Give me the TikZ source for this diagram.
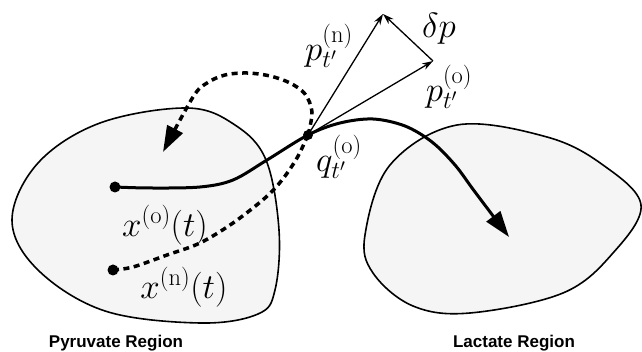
\RequirePackage{fix-cm}
\documentclass[tikz,border=0pt]{standalone}
\usepackage{fontspec}
\newfontfamily\labelfont{Liberation Sans}
\usetikzlibrary{arrows.meta}
\begin{document}
\begin{tikzpicture}[x=1pt,y=-1pt,
  region/.style={draw=black, line width=1.6pt, fill=black!4},
  traj/.style={line width=3pt},
  newtraj/.style={line width=3.5pt, dash pattern=on 6pt off 4.5pt},
  vec/.style={line width=1.3pt, -{Stealth[length=11pt,width=7pt]}},
  bigtip/.style={-{Triangle[length=26pt,width=17pt]}},
  mathlabel/.style={font=\fontsize{35}{39}\selectfont, inner sep=0pt},
  regionlabel/.style={font=\labelfont\bfseries\fontsize{17}{20}\selectfont, inner sep=0pt},
  dotmark/.style={fill=black}]
\useasboundingbox (0,0) rectangle (642,352);
\clip (0,0) rectangle (642,352);

% regions
\draw[region] plot[smooth cycle, tension=0.6] coordinates {
  (187,108) (235,125) (266,160) (279,230) (275,290) (258,314)
  (200,323) (105,311) (38,270) (12,220) (38,163) (100,123)};
\draw[region] plot[smooth cycle, tension=0.6] coordinates {
  (457,125) (547,137) (603,165) (641,205) (613,253) (563,293)
  (470,313) (413,306) (373,273) (365,235) (390,165)};

% key points
\coordinate (xo) at (115,187);
\coordinate (xn) at (113,270);
\coordinate (q)  at (308,135);
\coordinate (pn) at (383,14);
\coordinate (po) at (433,61);
\coordinate (lend) at (509,237);
\coordinate (pend) at (163,152);

% original trajectory
\draw[traj, bigtip] plot[smooth, tension=0.55] coordinates {
  (xo) (150,188) (200,187) (233,180) (267,160) (q) (340,123) (373,119)
  (405,126) (432,142) (455,165) (475,192) (lend)};

% new trajectory
\draw[newtraj] plot[smooth, tension=0.55] coordinates {
  (xn) (133,267) (167,255) (200,243) (233,223) (265,198) (282,180) (297,158) (q)};
\draw[newtraj, bigtip] plot[smooth, tension=0.55] coordinates {
  (q) (312,112) (305,94) (290,83) (270,76) (247,73) (225,75) (207,83) (193,97) (pend)};

% momentum vectors
\draw[vec] (q) -- (pn);
\draw[vec] (q) -- (po);
\draw[vec] (po) -- (pn);

% dots
\fill[dotmark] (xo) circle (5.5pt);
\fill[dotmark] (xn) circle (5.5pt);
\fill[dotmark] (q) circle (5pt);

% labels
\node[mathlabel] (lxo) at (165,225) {$x^{(\mathrm{o})}(t)$};
\node[mathlabel] (lxn) at (184,287) {$x^{(\mathrm{n})}(t)$};
\node[mathlabel] (lq)  at (339,157) {$q^{(\mathrm{o})}_{t'}$};
\node[mathlabel] (lpn) at (329,46)  {$p^{(\mathrm{n})}_{t'}$};
\node[mathlabel] (ldp) at (439,29)  {$\delta p$};
\node[mathlabel] (lpo) at (449,87)  {$p^{(\mathrm{o})}_{t'}$};

\node[regionlabel] (lpyr) at (116,343) {Pyruvate Region};
\node[regionlabel] (llac) at (514,343) {Lactate Region};
\end{tikzpicture}
\end{document}
